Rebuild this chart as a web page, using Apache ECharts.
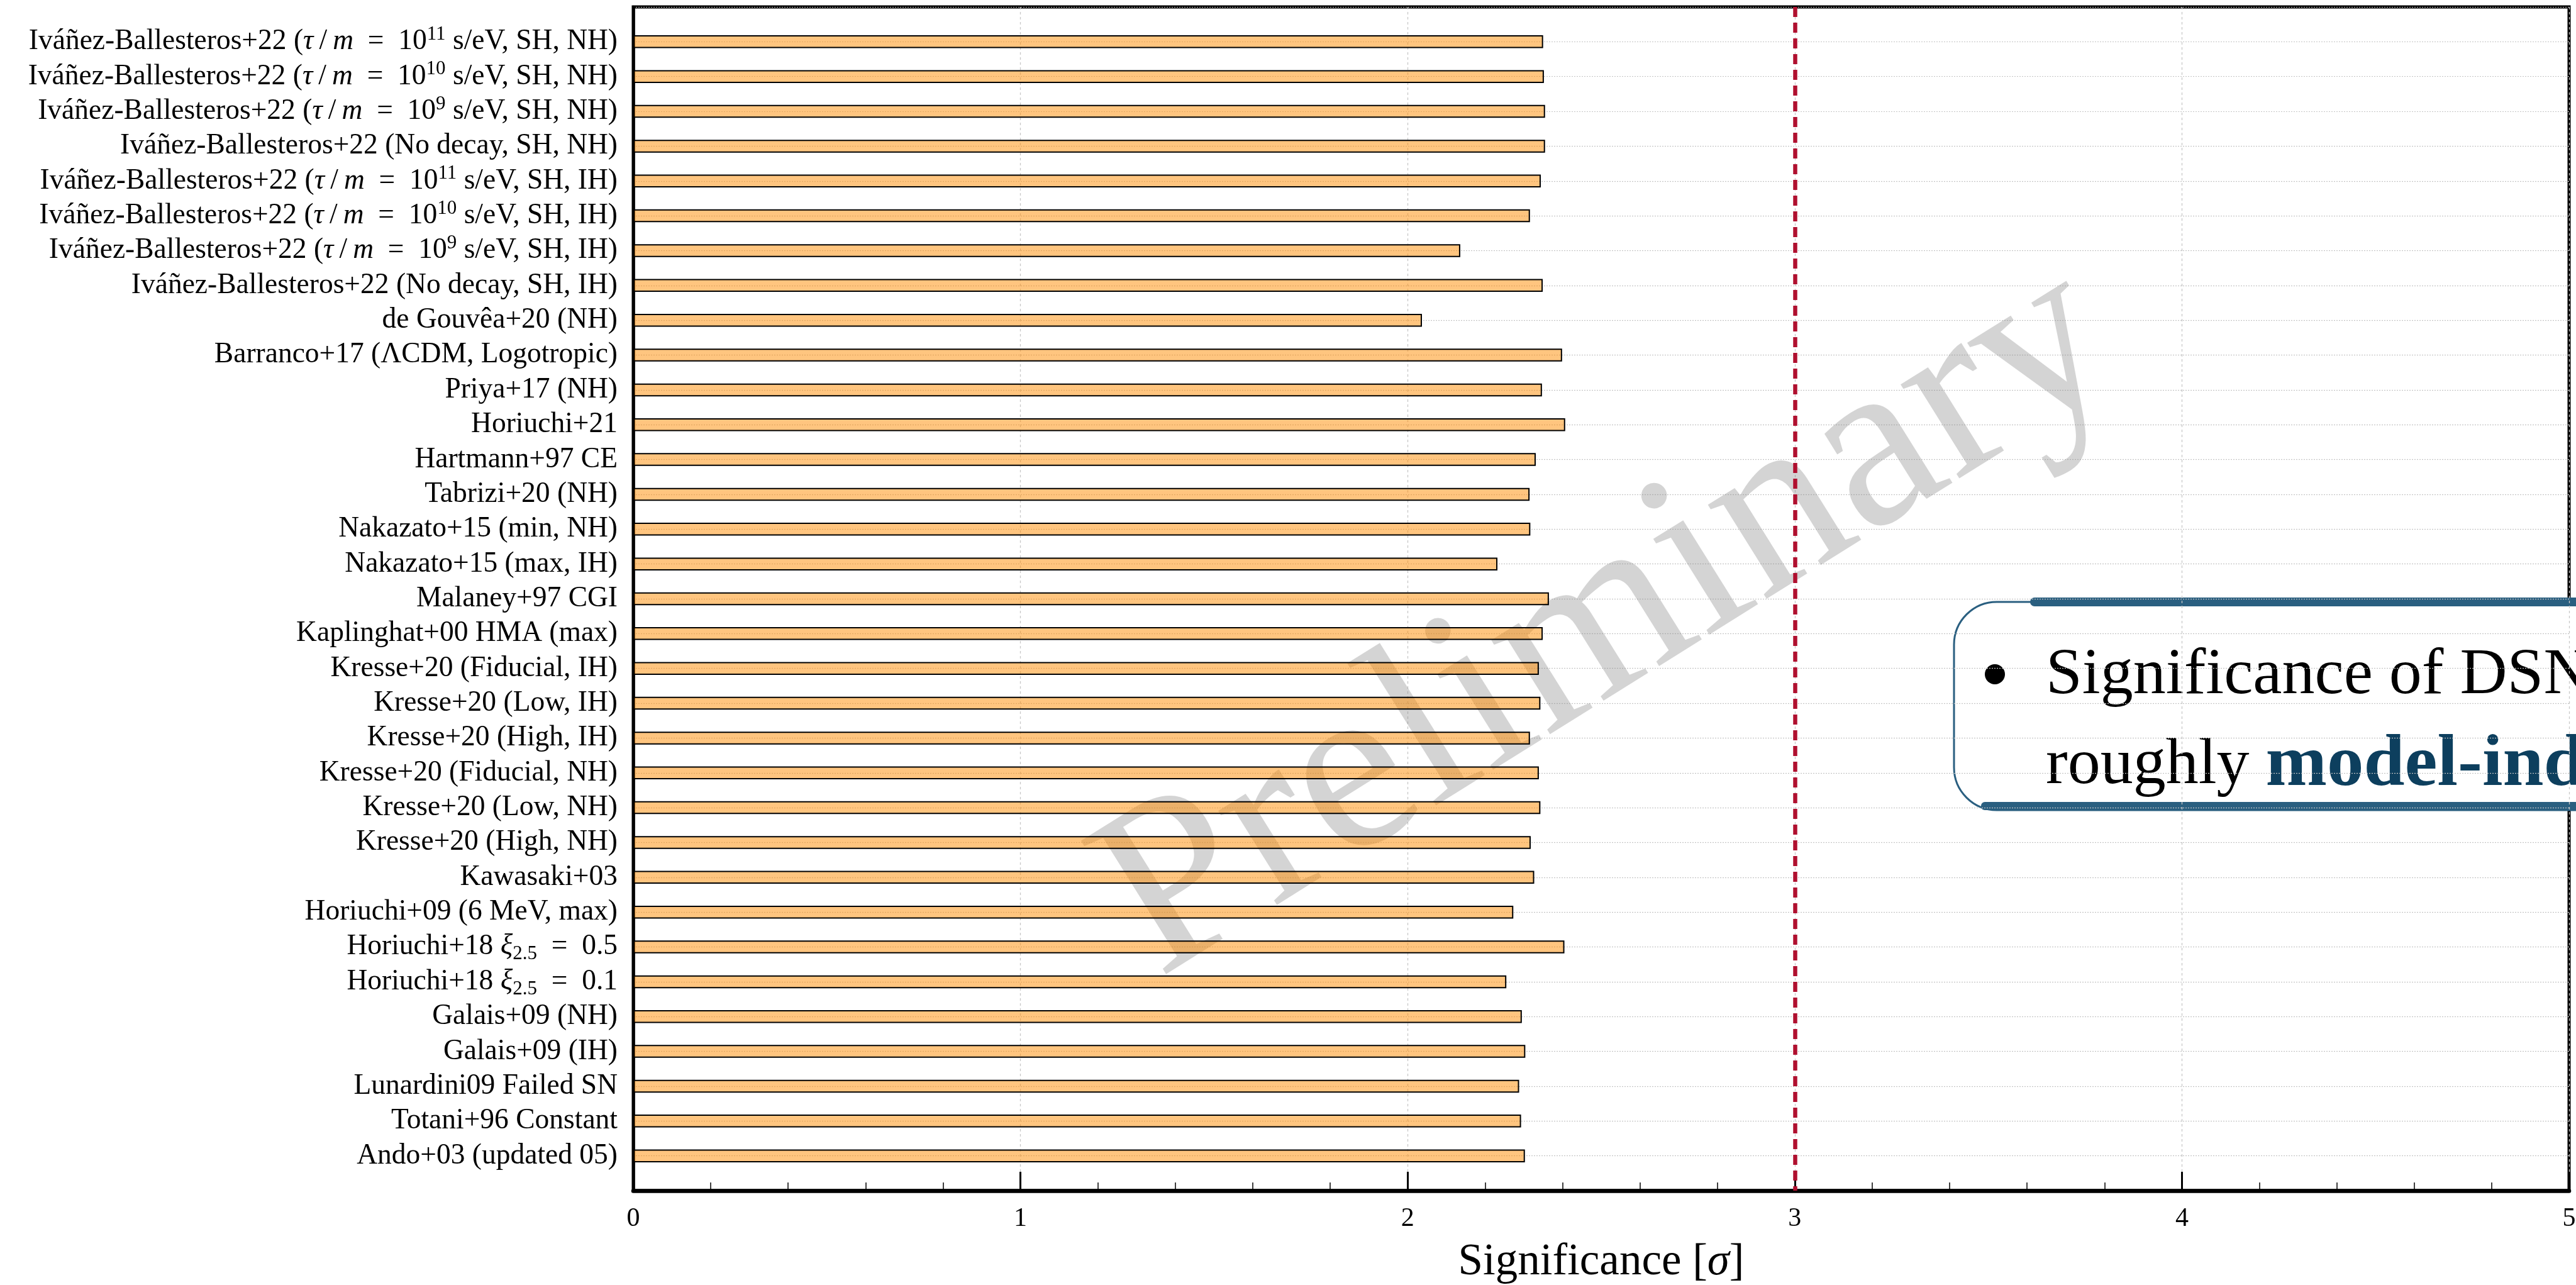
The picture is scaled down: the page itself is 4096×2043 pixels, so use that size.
<!DOCTYPE html>
<html>
<head>
<meta charset="utf-8">
<script src="https://cdn.jsdelivr.net/npm/echarts@6/dist/echarts.min.js"></script>
<style>
html,body{margin:0;padding:0;background:#fff;}
#chart{width:4096px;height:2043px;}
</style>
</head>
<body>
<div id="chart"></div>
<script>
// ---- data (top to bottom) ----
const categories = [
  'Iváñez-Ballesteros+22 ({it|τ}\u2009/\u2009{it|m}\u2002=\u200210{sup|11} s/eV, SH, NH)',
  'Iváñez-Ballesteros+22 ({it|τ}\u2009/\u2009{it|m}\u2002=\u200210{sup|10} s/eV, SH, NH)',
  'Iváñez-Ballesteros+22 ({it|τ}\u2009/\u2009{it|m}\u2002=\u200210{sup|9} s/eV, SH, NH)',
  'Iváñez-Ballesteros+22 (No decay, SH, NH)',
  'Iváñez-Ballesteros+22 ({it|τ}\u2009/\u2009{it|m}\u2002=\u200210{sup|11} s/eV, SH, IH)',
  'Iváñez-Ballesteros+22 ({it|τ}\u2009/\u2009{it|m}\u2002=\u200210{sup|10} s/eV, SH, IH)',
  'Iváñez-Ballesteros+22 ({it|τ}\u2009/\u2009{it|m}\u2002=\u200210{sup|9} s/eV, SH, IH)',
  'Iváñez-Ballesteros+22 (No decay, SH, IH)',
  'de Gouvêa+20 (NH)',
  'Barranco+17 (ΛCDM, Logotropic)',
  'Priya+17 (NH)',
  'Horiuchi+21',
  'Hartmann+97 CE',
  'Tabrizi+20 (NH)',
  'Nakazato+15 (min, NH)',
  'Nakazato+15 (max, IH)',
  'Malaney+97 CGI',
  'Kaplinghat+00 HMA (max)',
  'Kresse+20 (Fiducial, IH)',
  'Kresse+20 (Low, IH)',
  'Kresse+20 (High, IH)',
  'Kresse+20 (Fiducial, NH)',
  'Kresse+20 (Low, NH)',
  'Kresse+20 (High, NH)',
  'Kawasaki+03',
  'Horiuchi+09 (6 MeV, max)',
  'Horiuchi+18 {it|ξ}{sub|2.5}\u2002=\u20020.5',
  'Horiuchi+18 {it|ξ}{sub|2.5}\u2002=\u20020.1',
  'Galais+09 (NH)',
  'Galais+09 (IH)',
  'Lunardini09 Failed SN',
  'Totani+96 Constant',
  'Ando+03 (updated 05)'
];
const significance = [
  2.350, 2.352, 2.355, 2.355, 2.344, 2.316, 2.136, 2.349,
  2.037, 2.399, 2.347, 2.407, 2.331, 2.315, 2.317, 2.232,
  2.365, 2.349, 2.339, 2.343, 2.316, 2.339, 2.343, 2.318,
  2.327, 2.273, 2.405, 2.255, 2.295, 2.304, 2.288, 2.293, 2.303
];
const xTickLabels = ['0', '1', '2', '3', '4', '5'];
const threshold = 3;
const xAxisTitle = 'Significance [{it|σ}]';
const watermarkText = 'Preliminary';
const calloutLine1 = 'Significance of DSNB';
const calloutLine2a = 'roughly ';
const calloutLine2b = 'model-independent';

// ---- build ----
const FONT = "'Liberation Serif', 'DejaVu Serif', serif";
const yData = [''].concat(categories).concat(['']);
const barData = [null].concat(significance).concat([null]);

const chart = echarts.init(document.getElementById('chart'), null, {renderer: 'canvas'});
const option = {
  backgroundColor: '#ffffff',
  animation: false,
  grid: {
    left: 1007, right: 11, top: 11, bottom: 150,
    containLabel: false, outerBoundsMode: 'none',
    show: true, borderColor: '#000', borderWidth: 5, backgroundColor: 'transparent'
  },
  xAxis: {
    type: 'value', min: 0, max: 5, interval: 1,
    axisLine: {show: true, lineStyle: {color: '#000', width: 6.5}},
    axisTick: {show: true, inside: true, length: 30, lineStyle: {color: '#000', width: 3}},
    minorTick: {show: true, splitNumber: 5, length: 13, lineStyle: {color: '#000', width: 1.5}},
    splitLine: {show: true, lineStyle: {color: '#c8c8c8', width: 1.3, type: [4, 4]}},
    axisLabel: {
      margin: 24, fontSize: 42, fontFamily: FONT, color: '#000',
      formatter: v => xTickLabels[Math.round(v)]
    },
    name: xAxisTitle, nameLocation: 'middle', nameGap: 79,
    nameTextStyle: {
      fontSize: 71, fontFamily: FONT, color: '#000',
      rich: {it: {fontSize: 71, fontFamily: FONT, fontStyle: 'italic', color: '#000'}}
    }
  },
  yAxis: {
    type: 'category', inverse: true, boundaryGap: false, data: yData,
    axisLine: {show: true, lineStyle: {color: '#000', width: 4.5}},
    axisTick: {show: false},
    splitLine: {show: true, interval: 0, lineStyle: {color: '#c4c4c4', width: 1.2, type: [2, 2]}},
    axisLabel: {
      interval: 0, margin: 25, fontSize: 45.5, fontFamily: FONT, color: '#000', lineHeight: 54,
      formatter: v => v,
      rich: {
        it: {fontSize: 45.5, fontFamily: FONT, fontStyle: 'italic', color: '#000'},
        sup: {fontSize: 31, fontFamily: FONT, color: '#000', verticalAlign: 'top', lineHeight: 31},
        sub: {fontSize: 31, fontFamily: FONT, color: '#000', verticalAlign: 'bottom', lineHeight: 28}
      }
    }
  },
  graphic: [
    {
      type: 'text', x: 2558, y: 990, rotation: 32 * Math.PI / 180, z: 1, silent: true,
      style: {
        text: watermarkText, fontSize: 384, fontFamily: FONT,
        fill: 'rgba(128,128,128,0.34)', textAlign: 'center', textVerticalAlign: 'middle'
      }
    },
    {
      type: 'group', z: 100, silent: true,
      children: [
        {type: 'rect', shape: {x: 3107, y: 957, width: 1200, height: 331, r: 68},
         style: {fill: '#ffffff', stroke: '#2a5f80', lineWidth: 3}},
        {type: 'rect', shape: {x: 3228, y: 950, width: 1100, height: 14, r: 7},
         style: {fill: '#2a5f80'}},
        {type: 'rect', shape: {x: 3150, y: 1275, width: 1100, height: 13, r: 6},
         style: {fill: '#2a5f80'}},
        {type: 'circle', shape: {cx: 3172, cy: 1072, r: 16}, style: {fill: '#000'}},
        {type: 'text', x: 3253, y: 1075,
         style: {text: calloutLine1, fontSize: 104, fontFamily: FONT, fill: '#000',
                 textAlign: 'left', textVerticalAlign: 'middle'}},
        {type: 'text', x: 3253, y: 1218,
         style: {text: calloutLine2a + '{b|' + calloutLine2b + '}', fontSize: 104, fontFamily: FONT,
                 fill: '#000', textAlign: 'left', textVerticalAlign: 'middle',
                 rich: {b: {fontSize: 117, fontFamily: FONT, fontWeight: 'bold', fill: '#0d3f5e'}}}}
      ]
    }
  ],
  series: [{
    type: 'bar',
    data: barData,
    barWidth: 20.5,
    itemStyle: {color: 'rgba(255,140,0,0.5)', borderColor: '#000', borderWidth: 2},
    markLine: {
      silent: true, symbol: ['none', 'none'], label: {show: false},
      lineStyle: {color: '#b0102f', width: 6.5, type: [16, 9]},
      data: [{xAxis: threshold}]
    }
  }]
};
chart.setOption(option);
</script>
</body>
</html>
